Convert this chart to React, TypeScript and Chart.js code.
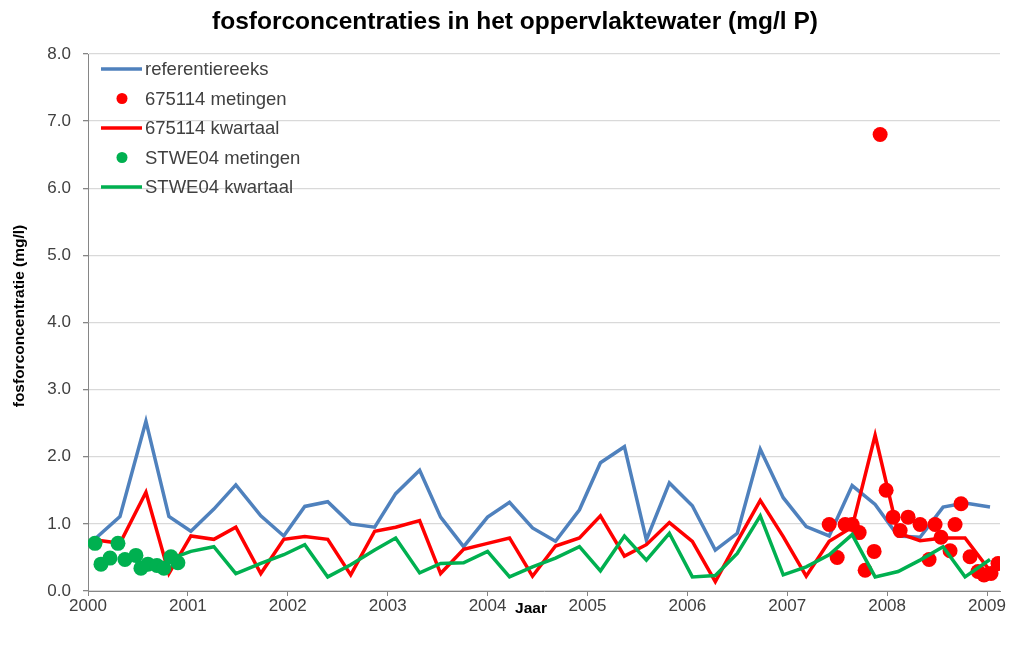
import React, { useEffect, useRef } from "react";
import { Chart, registerables } from "chart.js";

Chart.register(...registerables);

const chartTitle = "fosforconcentraties in het oppervlaktewater (mg/l P)";
const yAxisTitle = "fosforconcentratie (mg/l)";
const xAxisTitle = "Jaar";
const yearTicks = [2000, 2001, 2002, 2003, 2004, 2005, 2006, 2007, 2008, 2009];

const quarterDates = [
  2000.08, 2000.32, 2000.58, 2000.81, 2001.03, 2001.26, 2001.48, 2001.73, 2001.96, 2002.17,
  2002.4, 2002.63, 2002.87, 2003.08, 2003.32, 2003.53, 2003.76, 2004.0, 2004.22, 2004.45,
  2004.68, 2004.92, 2005.13, 2005.37, 2005.59, 2005.82, 2006.05, 2006.28, 2006.5, 2006.73,
  2006.96, 2007.19, 2007.42, 2007.65, 2007.88, 2008.11, 2008.33, 2008.56, 2008.78, 2009.03,
];

const referentiereeks = [
  0.79, 1.11, 2.53, 1.11, 0.89, 1.22, 1.58, 1.12, 0.82, 1.26,
  1.33, 1.0, 0.95, 1.45, 1.8, 1.1, 0.66, 1.1, 1.32, 0.94,
  0.74, 1.21, 1.91, 2.15, 0.76, 1.61, 1.27, 0.61, 0.86, 2.11,
  1.39, 0.96, 0.82, 1.57, 1.29, 0.82, 0.8, 1.25, 1.31, 1.25,
];

const kwartaal675114 = [
  0.76, 0.71, 1.47, 0.26, 0.82, 0.77, 0.95, 0.26, 0.77, 0.81,
  0.77, 0.24, 0.89, 0.95, 1.05, 0.26, 0.62, 0.71, 0.79, 0.22,
  0.67, 0.79, 1.12, 0.52, 0.69, 1.02, 0.74, 0.14, 0.74, 1.35,
  0.81, 0.22, 0.74, 0.95, 2.32, 0.86, 0.75, 0.79, 0.79, 0.3,
];

const kwartaalSTWE04 = [
  null, null, null, 0.47, 0.59, 0.66, 0.26, 0.41, 0.54, 0.69,
  0.21, 0.39, 0.61, 0.79, 0.27, 0.41, 0.42, 0.59, 0.21, 0.36,
  0.49, 0.66, 0.3, 0.82, 0.46, 0.86, 0.21, 0.23, 0.56, 1.12,
  0.24, 0.36, 0.54, 0.84, 0.21, 0.29, 0.46, 0.66, 0.21, 0.47,
];

const metingen675114Dates = [
  2007.42, 2007.5, 2007.58, 2007.65, 2007.72, 2007.78, 2007.87, 2007.93, 2007.99, 2008.06,
  2008.13, 2008.21, 2008.33, 2008.42, 2008.48, 2008.54, 2008.63, 2008.68, 2008.74, 2008.83,
  2008.91, 2008.97, 2009.04, 2009.11,
];
const metingen675114Values = [
  0.99, 0.5, 0.99, 0.99, 0.87, 0.31, 0.59, 6.8, 1.5, 1.1,
  0.9, 1.1, 0.99, 0.47, 0.99, 0.8, 0.6, 0.99, 1.3, 0.51,
  0.29, 0.24, 0.26, 0.41,
];

const metingenSTWE04Dates = [
  2000.07, 2000.13, 2000.22, 2000.3, 2000.37, 2000.48, 2000.53, 2000.6, 2000.69, 2000.76,
  2000.83, 2000.9,
];
const metingenSTWE04Values = [
  0.71, 0.4, 0.49, 0.71, 0.47, 0.53, 0.34, 0.4, 0.38, 0.34,
  0.51, 0.42,
];

const BLUE = "#4F81BD";
const RED = "#FF0000";
const GREEN = "#00B050";
const FONT = "'Liberation Sans', Arial, sans-serif";
const TEXT = "#404040";

const toPoints = (xs: number[], ys: (number | null)[]) =>
  xs.map((x, i) => ({ x, y: ys[i] }));

const textPlugin = {
  id: "textPlugin",
  afterDraw(chart: any) {
    const ctx = chart.ctx as CanvasRenderingContext2D;
    ctx.save();
    // title
    ctx.fillStyle = "#000";
    ctx.font = `bold 24.5px ${FONT}`;
    ctx.textAlign = "center";
    ctx.textBaseline = "middle";
    ctx.fillText(chartTitle, 515, 22);
    // axis titles
    ctx.font = `bold 15.5px ${FONT}`;
    ctx.fillText(xAxisTitle, 531, 609);
    ctx.save();
    ctx.translate(20, 316);
    ctx.rotate(-Math.PI / 2);
    ctx.fillText(yAxisTitle, 0, 0);
    ctx.restore();
    // legend
    const items = [
      { label: "referentiereeks", kind: "line", color: BLUE },
      { label: "675114 metingen", kind: "dot", color: RED },
      { label: "675114 kwartaal", kind: "line", color: RED },
      { label: "STWE04 metingen", kind: "dot", color: GREEN },
      { label: "STWE04 kwartaal", kind: "line", color: GREEN },
    ];
    ctx.font = `18.5px ${FONT}`;
    ctx.textAlign = "left";
    items.forEach((it, i) => {
      const y = 69 + i * 29.5;
      if (it.kind === "line") {
        ctx.strokeStyle = it.color;
        ctx.lineWidth = 3.5;
        ctx.beginPath();
        ctx.moveTo(101, y);
        ctx.lineTo(142, y);
        ctx.stroke();
      } else {
        ctx.fillStyle = it.color;
        ctx.beginPath();
        ctx.arc(122, y, 5.5, 0, Math.PI * 2);
        ctx.fill();
      }
      ctx.fillStyle = TEXT;
      ctx.fillText(it.label, 145, y + 1);
    });
    ctx.restore();
  },
};

export default function App() {
  const canvasRef = useRef<HTMLCanvasElement | null>(null);

  useEffect(() => {
    if (!canvasRef.current) return;
    const chart = new Chart(canvasRef.current, {
      type: "line",
      data: {
        datasets: [
          {
            type: "line",
            label: "referentiereeks",
            data: toPoints(quarterDates, referentiereeks),
            borderColor: BLUE,
            borderWidth: 3.5,
            pointRadius: 0,
            tension: 0,
            order: 5,
          },
          {
            type: "scatter",
            label: "675114 metingen",
            data: toPoints(metingen675114Dates, metingen675114Values),
            backgroundColor: RED,
            borderWidth: 0,
            pointRadius: 7.5,
            order: 4,
          },
          {
            type: "line",
            label: "675114 kwartaal",
            data: toPoints(quarterDates, kwartaal675114),
            borderColor: RED,
            borderWidth: 3.5,
            pointRadius: 0,
            tension: 0,
            order: 3,
          },
          {
            type: "scatter",
            label: "STWE04 metingen",
            data: toPoints(metingenSTWE04Dates, metingenSTWE04Values),
            backgroundColor: GREEN,
            borderWidth: 0,
            pointRadius: 7.5,
            order: 2,
          },
          {
            type: "line",
            label: "STWE04 kwartaal",
            data: toPoints(quarterDates, kwartaalSTWE04),
            borderColor: GREEN,
            borderWidth: 3.5,
            pointRadius: 0,
            tension: 0,
            order: 1,
          },
        ] as any,
      },
      options: {
        responsive: false,
        animation: false,
        layout: { padding: { top: 54, right: 11, left: 0, bottom: 0 } },
        plugins: {
          legend: { display: false },
          title: { display: false },
          tooltip: { enabled: false },
        },
        scales: {
          x: {
            type: "linear",
            min: 2000,
            max: 2009.13,
            afterBuildTicks: (axis: any) => {
              axis.ticks = yearTicks.map((v) => ({ value: v }));
            },
            afterFit: (axis: any) => {
              axis.height = 59;
            },
            grid: {
              drawOnChartArea: false,
              tickLength: 5,
              tickColor: "#868686",
            },
            border: { color: "#868686", width: 1 },
            ticks: {
              color: TEXT,
              font: { family: FONT, size: 17 },
              padding: 0,
              maxRotation: 0,
              autoSkip: false,
              callback: (v: any) => String(v),
            },
          },
          y: {
            type: "linear",
            min: 0,
            max: 8,
            afterFit: (axis: any) => {
              axis.width = 88;
            },
            grid: {
              color: "#d9d9d9",
              lineWidth: 1.3,
              tickLength: 5,
              tickColor: "#868686",
            },
            border: { color: "#868686", width: 1 },
            ticks: {
              stepSize: 1,
              color: TEXT,
              font: { family: FONT, size: 17 },
              padding: 12,
              callback: (v: any) => Number(v).toFixed(1),
            },
          },
        },
      },
      plugins: [textPlugin],
    });
    return () => chart.destroy();
  }, []);

  return (
    <div style={{ position: "absolute", left: 0, top: 0, width: 1011, height: 650, background: "#fff" }}>
      <canvas ref={canvasRef} width={1011} height={650} style={{ display: "block" }} />
    </div>
  );
}
